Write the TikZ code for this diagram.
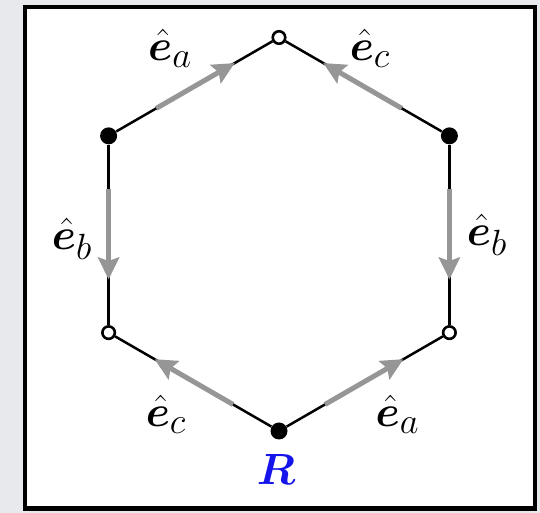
\documentclass[tikz,border=0pt]{standalone}
\usepackage{amsmath,amssymb}
\usepackage{bm}
\usepackage{tikz}
\usetikzlibrary{arrows.meta,calc}
\usepackage{xcolor}
\definecolor{pagebg}{RGB}{231,233,236}
\definecolor{stepgray}{RGB}{150,150,150}
\definecolor{rblue}{RGB}{20,20,235}

\begin{document}
\begin{tikzpicture}[font=\fontsize{30}{36}\selectfont,
  fdot/.style={circle,fill=black,inner sep=0pt,minimum size=0.34cm},
  odot/.style={circle,draw=black,fill=white,line width=0.052cm,inner sep=0pt,minimum size=0.25cm},
  edge/.style={line width=0.05cm,black},
  garrow/.style={line width=0.1cm,stepgray,-{Stealth[length=0.44cm,width=0.42cm,inset=0.07cm]}}]
% page and frame
\fill[pagebg] (-5.58,4.685) rectangle (5.22,-5.575);
\useasboundingbox (-5.58,4.685) rectangle (5.22,-5.575);
\draw[line width=0.09cm,fill=white] (-5.075,4.54) rectangle (5.115,-5.49);

% hexagon vertices
\node[odot] (top) at (90:3.935) {};
\node[fdot] (ul) at (150:3.935) {};
\node[odot] (ll) at (210:3.935) {};
\node[fdot] (bot) at (270:3.935) {};
\node[odot] (lr) at (330:3.935) {};
\node[fdot] (ur) at (30:3.935) {};

% edges
\draw[edge] (ul) -- (top);
\draw[edge] (ur) -- (top);
\draw[edge] (ul) -- (ll);
\draw[edge] (ur) -- (lr);
\draw[edge] (bot) -- (ll);
\draw[edge] (bot) -- (lr);

% unit steps
\draw[garrow] ($(ul)!0.28!(top)$) -- ($(ul)!0.74!(top)$);
\draw[garrow] ($(ur)!0.28!(top)$) -- ($(ur)!0.74!(top)$);
\draw[garrow] ($(ul)!0.27!(ll)$) -- ($(ul)!0.73!(ll)$);
\draw[garrow] ($(ur)!0.27!(lr)$) -- ($(ur)!0.73!(lr)$);
\draw[garrow] ($(bot)!0.27!(ll)$) -- ($(bot)!0.73!(ll)$);
\draw[garrow] ($(bot)!0.27!(lr)$) -- ($(bot)!0.73!(lr)$);

% labels
\node (ea1) at (-2.18,3.72) {$\hat{\bm{e}}_a$};
\node (ec1) at (1.82,3.72) {$\hat{\bm{e}}_c$};
\node (eb1) at (-4.14,-0.1) {$\hat{\bm{e}}_b$};
\node (eb2) at (4.16,-0.02) {$\hat{\bm{e}}_b$};
\node (ec2) at (-2.26,-3.6) {$\hat{\bm{e}}_c$};
\node (ea2) at (2.37,-3.6) {$\hat{\bm{e}}_a$};
\node[rblue,font=\fontsize{31}{36}\selectfont] (rlab) at (-0.06,-4.715) {$\bm{R}$};
\end{tikzpicture}
\end{document}
